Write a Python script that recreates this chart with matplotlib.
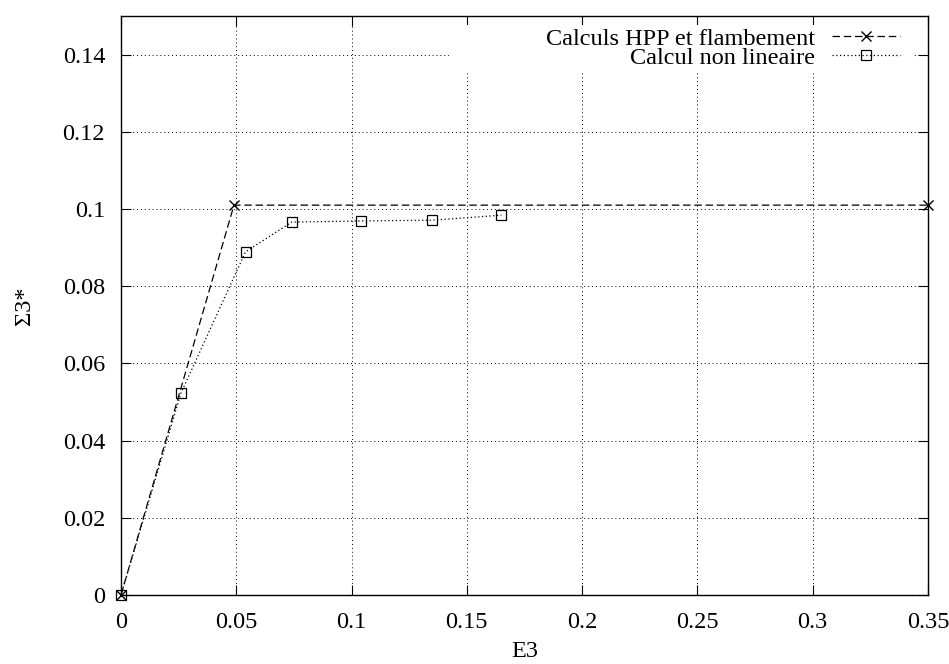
import numpy as np
import matplotlib.pyplot as plt
from matplotlib.patches import Rectangle

plt.rcParams['font.family'] = ['Liberation Serif', 'DejaVu Serif']

# donnees
e3_hpp = [0.0, 0.049, 0.35]
s3_hpp = [0.0, 0.101, 0.101]
e3_nl = [0.0, 0.026, 0.054, 0.074, 0.104, 0.135, 0.165]
s3_nl = [0.0, 0.0523, 0.0889, 0.0966, 0.0969, 0.0971, 0.0984]

fig = plt.figure(figsize=(9.49, 6.64), dpi=100)
ax = fig.add_axes([121/949, 1-595/664, (928-121)/949, (595-16)/664])

ax.plot(e3_hpp, s3_hpp, color='black', linestyle=(0, (6, 3)), linewidth=0.9,
        marker='x', markersize=7, markeredgewidth=1.0, clip_on=False, zorder=3,
        label='Calculs HPP et flambement')
ax.plot(e3_nl, s3_nl, color='black', linestyle=(0, (1, 2)), linewidth=0.9,
        marker='s', markersize=7, markerfacecolor='none', markeredgewidth=0.9,
        clip_on=False, zorder=3, label='Calcul non lineaire')

ax.set_xlim(0, 0.35)
ax.set_ylim(0, 0.15)
ax.set_xticks([0, 0.05, 0.1, 0.15, 0.2, 0.25, 0.3, 0.35])
ax.set_xticklabels(['0', '0.05', '0.1', '0.15', '0.2', '0.25', '0.3', '0.35'])
ax.set_yticks([0, 0.02, 0.04, 0.06, 0.08, 0.1, 0.12, 0.14])
ax.set_yticklabels(['0', '0.02', '0.04', '0.06', '0.08', '0.1', '0.12', '0.14'])
ax.tick_params(direction='in', top=True, right=True, length=7, labelsize=17.5)
ax.tick_params(axis='x', pad=12)
ax.tick_params(axis='y', pad=11.5)
ax.grid(True, color='black', linestyle=(0, (1, 3)), linewidth=0.7)

ax.set_xlabel('E3', fontsize=17.5, labelpad=6)
ax.set_ylabel('Σ3*', fontsize=17.5, va='center')
ax.yaxis.set_label_coords(-0.12, 0.5)

# fond blanc de la legende (cache la grille)
ax.add_patch(Rectangle((0.407, 0.903), 0.574, 0.081, transform=ax.transAxes,
                       facecolor='white', edgecolor='none', zorder=1.8))

leg = ax.legend(loc='upper right', bbox_to_anchor=(0.965, 0.98), fontsize=17.5,
                markerfirst=False, numpoints=1, frameon=False,
                handlelength=2.8, handletextpad=0.7,
                borderaxespad=0, borderpad=0, labelspacing=-0.12)

for s in ax.spines.values():
    s.set_linewidth(1.0)

fig.savefig('out.png', dpi=100)
